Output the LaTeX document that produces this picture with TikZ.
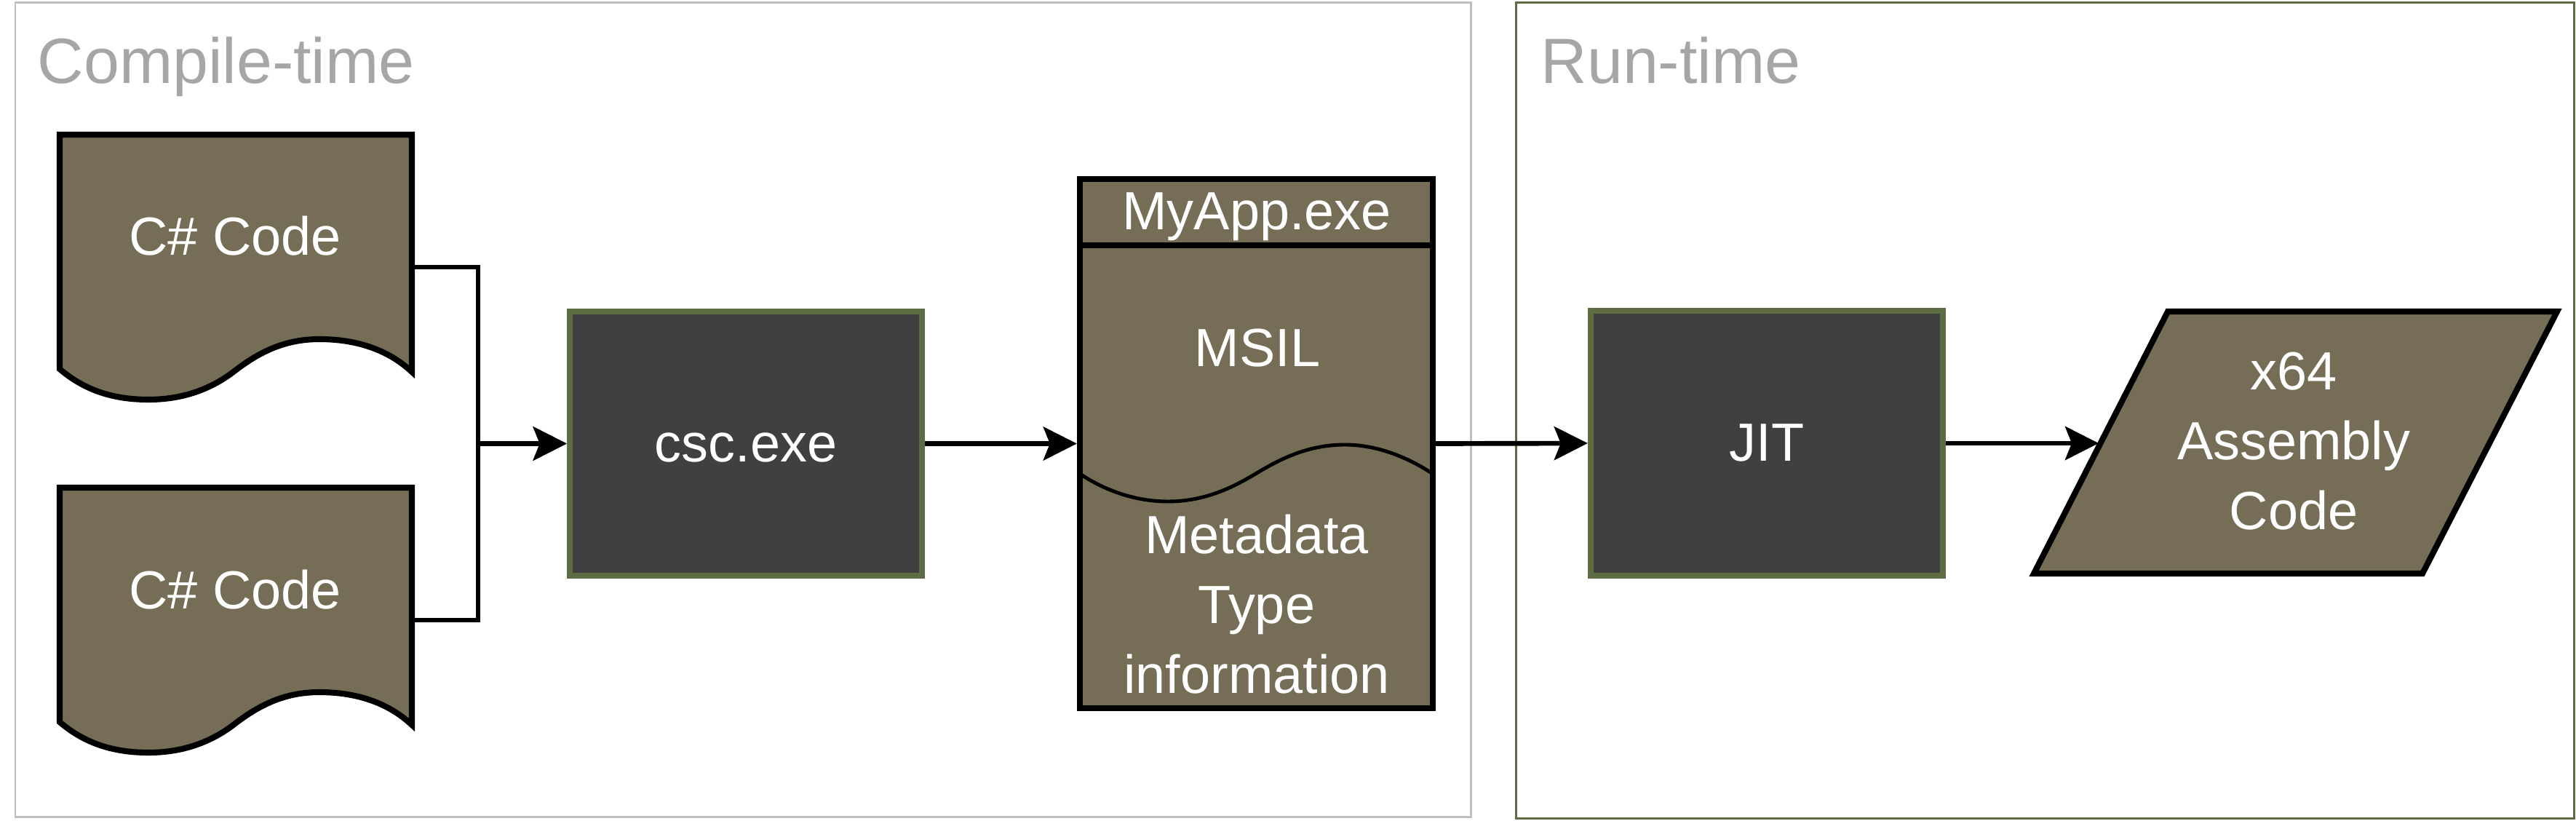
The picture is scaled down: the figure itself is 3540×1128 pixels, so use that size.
\documentclass[tikz,border=0pt]{standalone}
\usepackage{fontspec}
\setmainfont{Liberation Sans}
\usetikzlibrary{arrows.meta}
\definecolor{docfill}{RGB}{117,109,85}
\definecolor{darkbox}{RGB}{64,64,64}
\definecolor{boxgreen}{RGB}{94,108,67}
\definecolor{framegrey}{RGB}{191,191,191}
\definecolor{titlegrey}{RGB}{166,166,166}
\begin{document}
\begin{tikzpicture}[x=0.01cm,y=-0.01cm,
  framebox/.style={line width=0.85pt},
  titletext/.style={text=titlegrey,font=\fontsize{25}{30}\selectfont,inner sep=0pt,anchor=base west},
  bodytext/.style={text=white,font=\fontsize{21}{27.3}\selectfont,inner sep=0pt},
  docstyle/.style={draw=black,fill=docfill,line width=2.3pt},
  procbox/.style={draw=boxgreen,fill=darkbox,line width=2.3pt,minimum width=4.84cm,minimum height=3.63cm,
    text=white,font=\fontsize{21}{27.3}\selectfont,inner sep=0pt,text height=0.49cm,text depth=0pt},
  conn/.style={draw=black,line width=1.9pt,-{Stealth[length=4.6mm,width=4.6mm,inset=0.9mm]}},
  docshape/.pic={
    \path[docstyle] (0,0) -- (484,0) -- (484,326)
      .. controls (450,294) and (405,281) .. (357,281)
      .. controls (310,281) and (275,298) .. (240,325)
      .. controls (205,352) and (165,364) .. (122,364)
      .. controls (75,364) and (35,352) .. (0,322) -- cycle;
  }
]
\useasboundingbox (0,0) rectangle (3540,1128);
\fill[white] (0,0) rectangle (3540,1128);

% frames
\draw[framebox,draw=framegrey] (21,3.5) rectangle (2021,1122);
\draw[framebox,draw=boxgreen] (2083,3.5) rectangle (3537,1124);
\node[titletext] (ct) at (51,115) {Compile-time};
\node[titletext] (rt) at (2117,115) {Run-time};

% boxes
\node[procbox] (csc) at (1025,609.5) {csc.exe};
\node[procbox] (jit) at (2428,609) {JIT};
\node[draw=black,fill=docfill,line width=2.3pt,minimum width=4.85cm,minimum height=7.27cm,inner sep=0pt] (myapp) at (1726.5,609.5) {};

% connection points
\coordinate (doc1out) at (570,367);
\coordinate (doc2out) at (570,852);
\coordinate (asmin) at (2884,609);

% connectors
\draw[conn] (doc1out) -- ++(87,0) |- (csc.west);
\draw[conn] (doc2out) -- ++(87,0) |- (csc.west);
\draw[conn] (csc.east) -- (myapp.west);
\draw[conn] (myapp.east) -- (jit.west);
\draw[conn] (jit.east) -- (asmin);

% documents
\pic at (82,185) {docshape};
\pic at (82,670) {docshape};
\node[bodytext,anchor=base] (doc1) at (323,351) {C\# Code};
\node[bodytext,anchor=base] (doc2) at (323,836) {C\# Code};

% MyApp.exe internals
\draw[line width=2.3pt] (1484,337) -- (1969,337);
\draw[line width=1.4pt] (1484,651)
  .. controls (1520,675) and (1562,689) .. (1605,689)
  .. controls (1660,689) and (1700,666) .. (1727,650)
  .. controls (1754,634) and (1794,611) .. (1848,611)
  .. controls (1892,611) and (1934,628) .. (1969,651);
\node[bodytext,anchor=base] (mytitle) at (1727,316) {MyApp.exe};
\node[bodytext,anchor=base] (msil) at (1728,504) {MSIL};
\node[bodytext,align=center] (meta) at (1727,830) {Metadata\\Type\\information};

% x64 assembly parallelogram
\path[docstyle] (2979,428) -- (3514,428) -- (3329,788) -- (2795,788) -- cycle;
\node[bodytext,align=center] (asm) at (3152,606.5) {x64\\Assembly\\Code};
\end{tikzpicture}
\end{document}
